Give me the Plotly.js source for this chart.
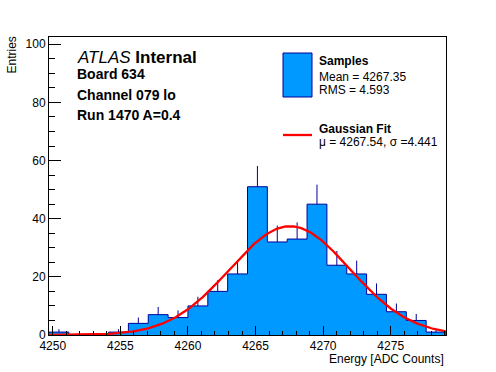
<!DOCTYPE html>
<html>
<head>
<meta charset="utf-8">
<script src="https://cdn.plot.ly/plotly-3.0.1.min.js"></script>
<style>html,body{margin:0;padding:0;background:#fff;}#chart{width:496px;height:372px;}</style>
</head>
<body>
<div id="chart"></div>
<script>
// Histogram definition
const binLow = 4249.72;
const binHigh = 4279.09;
const binCounts = [1, 0, 0, 1, 4, 7, 6, 10, 15, 21, 51, 32, 33, 45, 24, 21, 14, 8, 5, 1];
// Fit parameters (Gaussian)
const fitMu = 4267.54;
const fitSigma = 4.441;
const fitAmp = 37.4;
// Axis ticks / labels
const xTickStart = 4250;
const xTickStep = 5;
const yTickStep = 20;
const yMax = 102.5;
const legendLabels = ["Samples", "Mean = 4267.35", "RMS = 4.593", "Gaussian Fit", "\u03bc = 4267.54, \u03c3 =4.441"];
const infoLines = ["<i>ATLAS</i> <b>Internal</b>", "<b>Board 634</b>", "<b>Channel 079 lo</b>", "<b>Run 1470 A=0.4</b>"];
const xTitle = "Energy [ADC Counts]";
const yTitle = "Entries";

const nb = binCounts.length;
const bw = (binHigh - binLow) / nb;
const edges = [];
for (let i = 0; i <= nb; i++) edges.push(binLow + i * bw);

// step outline
const sx = [edges[0]], sy = [0];
for (let i = 0; i < nb; i++) { sx.push(edges[i]); sy.push(binCounts[i]); }
sx.push(edges[nb]); sy.push(binCounts[nb - 1]);
sx.push(edges[nb]); sy.push(0);

const centers = binCounts.map((c, i) => edges[i] + bw / 2);
const errs = binCounts.map(c => Math.sqrt(c));

const fx = [], fy = [];
const NF = 300;
for (let i = 0; i <= NF; i++) {
  const x = binLow + (binHigh - binLow) * i / NF;
  fx.push(x);
  fy.push(fitAmp * Math.exp(-0.5 * Math.pow((x - fitMu) / fitSigma, 2)));
}

const FONT = "Liberation Sans, Arial, Helvetica, sans-serif";
const navy = "rgb(0,0,153)";
const fillc = "rgb(0,153,255)";

const traces = [
  {x: sx, y: sy, type: "scatter", mode: "lines", line: {shape: "hv", color: navy, width: 1},
   fill: "tozeroy", fillcolor: fillc, hoverinfo: "skip", showlegend: false},
  {x: centers, y: binCounts, type: "scatter", mode: "markers",
   marker: {size: 1, color: "rgba(0,0,0,0)"},
   error_y: {type: "data", symmetric: false, array: errs, arrayminus: binCounts.map(() => 0),
             color: navy, thickness: 1, width: 0},
   showlegend: false, hoverinfo: "skip"},
  {x: fx, y: fy, type: "scatter", mode: "lines", line: {color: "rgb(255,0,0)", width: 2.3},
   showlegend: false, hoverinfo: "skip"}
];

// pixel -> paper helpers
const L = 49, R = 446, T = 37, B = 335;
const px = v => (v - L) / (R - L);
const py = v => (B - v) / (B - T);

const ann = [];
const infoY = [58, 74, 95, 115];
const infoSize = [17, 14, 14, 14];
infoLines.forEach((t, i) => ann.push({
  text: t, xref: "paper", yref: "paper", x: px(75), y: py(infoY[i]),
  xanchor: "left", yanchor: "middle", showarrow: false,
  font: {family: FONT, size: infoSize[i], color: "#000"}
}));
const legY = [61, 77, 90, 129, 142];
legendLabels.forEach((t, i) => ann.push({
  text: (i === 0 || i === 3) ? "<b>" + t + "</b>" : t,
  xref: "paper", yref: "paper", x: px(317), y: py(legY[i]),
  xanchor: "left", yanchor: "middle", showarrow: false,
  font: {family: FONT, size: 12, color: "#000"}
}));
ann.push({text: xTitle, xref: "paper", yref: "paper", x: 1, y: py(359),
  xanchor: "right", yanchor: "middle", showarrow: false,
  font: {family: FONT, size: 12, color: "#000"}});
ann.push({text: yTitle, xref: "paper", yref: "paper", x: px(12), y: py(35),
  xanchor: "center", yanchor: "top", textangle: -90, showarrow: false,
  font: {family: FONT, size: 12, color: "#000"}});

const shapes = [
  {type: "rect", xref: "paper", yref: "paper", x0: px(283), x1: px(312), y0: py(97), y1: py(53),
   fillcolor: fillc, line: {color: navy, width: 1}},
  {type: "line", xref: "paper", yref: "paper", x0: px(283), x1: px(312), y0: py(135), y1: py(135),
   line: {color: "rgb(255,0,0)", width: 2.3}}
];

const layout = {
  width: 496, height: 372,
  margin: {l: L, r: 496 - R, t: T, b: 372 - B},
  paper_bgcolor: "#fff", plot_bgcolor: "#fff",
  showlegend: false,
  font: {family: FONT, size: 12, color: "#000"},
  xaxis: {range: [binLow, binHigh], showgrid: false, zeroline: false,
    showline: true, linecolor: "#000", linewidth: 1, mirror: true,
    ticks: "inside", ticklen: 9, tickcolor: "#000", tickwidth: 1,
    tick0: xTickStart, dtick: xTickStep,
    minor: {ticks: "inside", ticklen: 4.5, dtick: 1, tickcolor: "#000", showgrid: false},
    tickfont: {family: FONT, size: 12, color: "#000"}},
  yaxis: {range: [0, yMax], showgrid: false, zeroline: false,
    showline: true, linecolor: "#000", linewidth: 1, mirror: true,
    ticks: "inside", ticklen: 12, tickcolor: "#000", tickwidth: 1,
    tick0: 0, dtick: yTickStep,
    minor: {ticks: "inside", ticklen: 6, dtick: 5, tickcolor: "#000", showgrid: false},
    tickfont: {family: FONT, size: 12, color: "#000"}},
  annotations: ann,
  shapes: shapes
};

Plotly.newPlot("chart", traces, layout, {displayModeBar: false, staticPlot: true});
</script>
</body>
</html>
